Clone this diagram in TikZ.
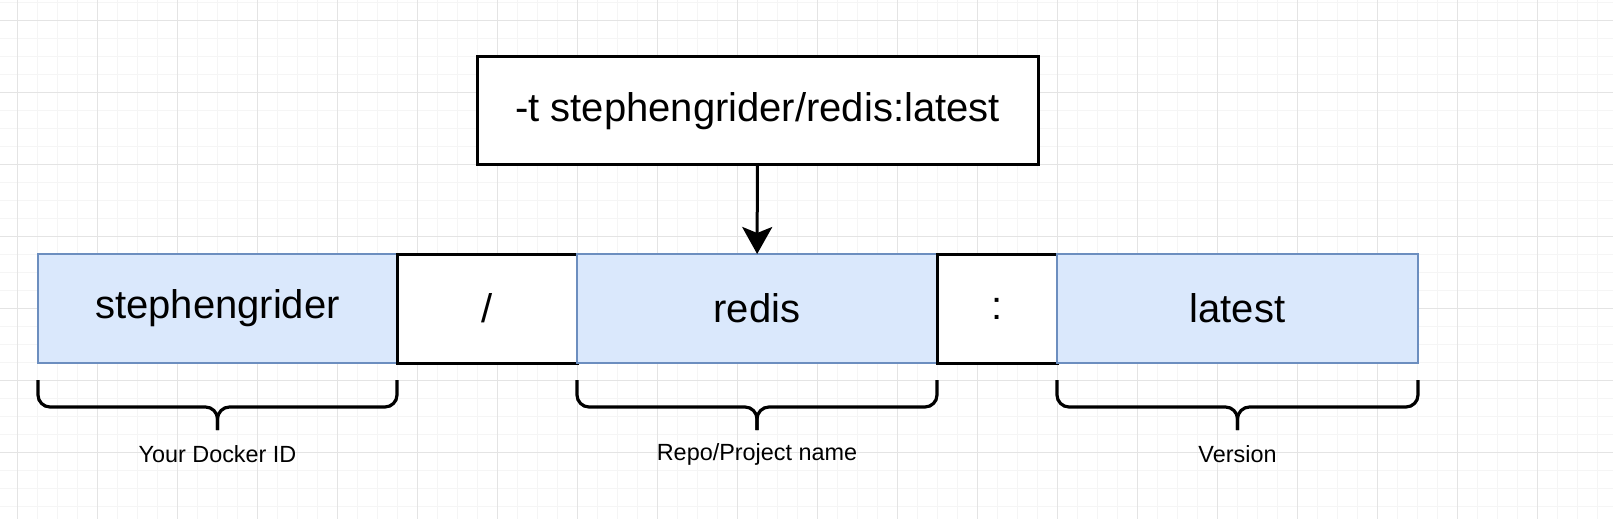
\documentclass[tikz,border=0pt]{standalone}
\usepackage{fontspec}
\setmainfont{Liberation Sans}
\definecolor{drawblue}{RGB}{108, 142, 191}
\definecolor{drawfill}{RGB}{218, 232, 252}
\definecolor{gridminor}{RGB}{245, 245, 245}
\definecolor{gridmajor}{RGB}{228, 228, 228}
\usetikzlibrary{arrows.meta, positioning, calc}

\begin{document}
\begin{tikzpicture}[
    x=0.5pt, y=-0.5pt,
    partbox/.style={draw=drawblue, line width=1.4pt, fill=drawfill, minimum width=#1,
                    minimum height=54.5pt, inner sep=0pt, outer sep=0pt, font=\fontsize{20}{24}\selectfont},
    sepbox/.style={draw=black, line width=1.5pt, fill=white, minimum width=#1,
                   minimum height=54.5pt, inner sep=0pt, outer sep=0pt, font=\fontsize{20}{24}\selectfont},
    cmdbox/.style={draw=black, line width=1.5pt, fill=white, minimum width=280.5pt,
                   minimum height=54pt, inner sep=0pt, outer sep=0pt, font=\fontsize{20}{24}\selectfont},
    brace/.style={draw=black, line width=1.6pt, rounded corners=6pt},
    caption/.style={font=\fontsize{11.7}{14}\selectfont}
]
    \useasboundingbox[fill=white] (0,0) rectangle (1613,519);

    % grid
    \foreach \x in {17.3,37.3,...,1613} \draw[gridminor, line width=0.5pt] (\x,0) -- (\x,519);
    \foreach \y in {2.3,20.3,...,519} \draw[gridminor, line width=0.5pt] (0,\y) -- (1613,\y);
    \foreach \x in {17.3,97.3,...,1613} \draw[gridmajor, line width=0.6pt] (\x,0) -- (\x,519);
    \foreach \y in {20.3,92.3,...,519} \draw[gridmajor, line width=0.6pt] (0,\y) -- (1613,\y);

    \node[cmdbox] (cmd) at (757.5,111) {-t stephengrider/redis:latest};

    \node[partbox=179.5pt] (sid) at (217.5,308.5) {stephengrider};
    \node[sepbox=90pt, right=0pt of sid] (slash) {/};
    \node[partbox=180pt, right=0pt of slash] (repo) {redis};
    \node[sepbox=60pt, right=0pt of repo] (colon) {:};
    \node[partbox=180.5pt, right=0pt of colon] (ver) {latest};

    \draw[-{Stealth[length=13.5pt, width=15pt, inset=3pt]}, line width=1.5pt] (cmd) -- (repo);

    % braces
    \foreach \n in {sid, repo, ver} {
        \draw[brace] ($(\n.south west)+(0,17)$) -- ($(\n.south west)+(0,44)$) -| ($(\n.south)+(0,67)$);
        \draw[brace] ($(\n.south east)+(0,17)$) -- ($(\n.south east)+(0,44)$) -| ($(\n.south)+(0,67)$);
    }

    \node[caption] (sidlabel) at ($(sid.south)+(0,91)$) {Your Docker ID};
    \node[caption] (repolabel) at ($(repo.south)+(0,91)$) {Repo/Project name};
    \node[caption] (verlabel) at ($(ver.south)+(0,91)$) {Version};
\end{tikzpicture}
\end{document}
